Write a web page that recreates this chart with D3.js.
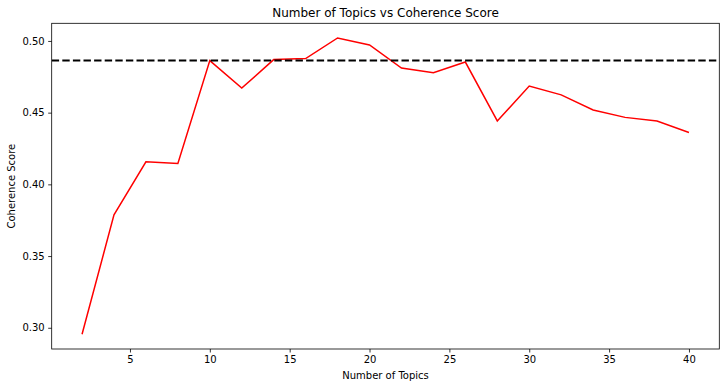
<!DOCTYPE html>
<html><head><meta charset="utf-8">
<script src="https://cdn.jsdelivr.net/npm/d3@7"></script>
<style>body{margin:0;background:#fff}svg{display:block}text{font-family:"DejaVu Sans",sans-serif}</style>
</head><body><svg id="c" width="727" height="387"></svg>
<script>
const topics = [2,4,6,8,10,12,14,16,18,20,22,24,26,28,30,32,34,36,38,40];
const coherence = [0.2955,0.3787,0.4157,0.4146,0.4863,0.4671,0.4870,0.4877,0.5021,0.4972,0.4811,0.4778,0.4853,0.4442,0.4685,0.4624,0.4519,0.4467,0.4442,0.4362];
const threshold = 0.4863;
const xTicks = [5,10,15,20,25,30,35,40];
const yTicks = [0.30,0.35,0.40,0.45,0.50];

const svg = d3.select("#c");
const L=51.7, R=719.3, T=23.3, B=349;
const x = d3.scaleLinear().domain([0.1,41.9]).range([L,R]);
const y = d3.scaleLinear().domain([0.2852,0.5123]).range([B,T]);

svg.append("g").attr("transform",`translate(0,${B})`)
  .call(d3.axisBottom(x).tickValues(xTicks).tickSize(3.5).tickPadding(3.5).tickFormat(d3.format("d")))
  .call(g=>{g.select(".domain").remove();g.selectAll("line").attr("stroke","#000").attr("stroke-width",0.8);
    g.selectAll("text").attr("font-size",10).attr("fill","#000");});
svg.append("g").attr("transform",`translate(${L},0)`)
  .call(d3.axisLeft(y).tickValues(yTicks).tickSize(3.5).tickPadding(3.5).tickFormat(d3.format(".2f")))
  .call(g=>{g.select(".domain").remove();g.selectAll("line").attr("stroke","#000").attr("stroke-width",0.8);
    g.selectAll("text").attr("font-size",10).attr("fill","#000");});

svg.append("defs").append("clipPath").attr("id","clip").append("rect")
  .attr("x",L).attr("y",T).attr("width",R-L).attr("height",B-T);

const line = d3.line().x((d,i)=>x(topics[i])).y(d=>y(d));
svg.append("path").datum(coherence).attr("d",line).attr("fill","none")
  .attr("stroke","#ff0000").attr("stroke-width",1.5).attr("clip-path","url(#clip)");

svg.append("line").attr("x1",L).attr("x2",R).attr("y1",y(threshold)).attr("y2",y(threshold))
  .attr("stroke","#000").attr("stroke-width",2).attr("stroke-dasharray","7.4,3.2").attr("clip-path","url(#clip)");

svg.append("rect").attr("x",L).attr("y",T).attr("width",R-L).attr("height",B-T)
  .attr("fill","none").attr("stroke","#000").attr("stroke-width",0.8);

svg.append("text").attr("x",(L+R)/2).attr("y",T-6).attr("text-anchor","middle")
  .attr("font-size",12).attr("fill","#000").text("Number of Topics vs Coherence Score");
svg.append("text").attr("x",(L+R)/2).attr("y",379).attr("text-anchor","middle")
  .attr("font-size",10).attr("fill","#000").text("Number of Topics");
svg.append("text").attr("transform",`translate(15,${(T+B)/2}) rotate(-90)`).attr("text-anchor","middle")
  .attr("font-size",10).attr("fill","#000").text("Coherence Score");
</script></body></html>
